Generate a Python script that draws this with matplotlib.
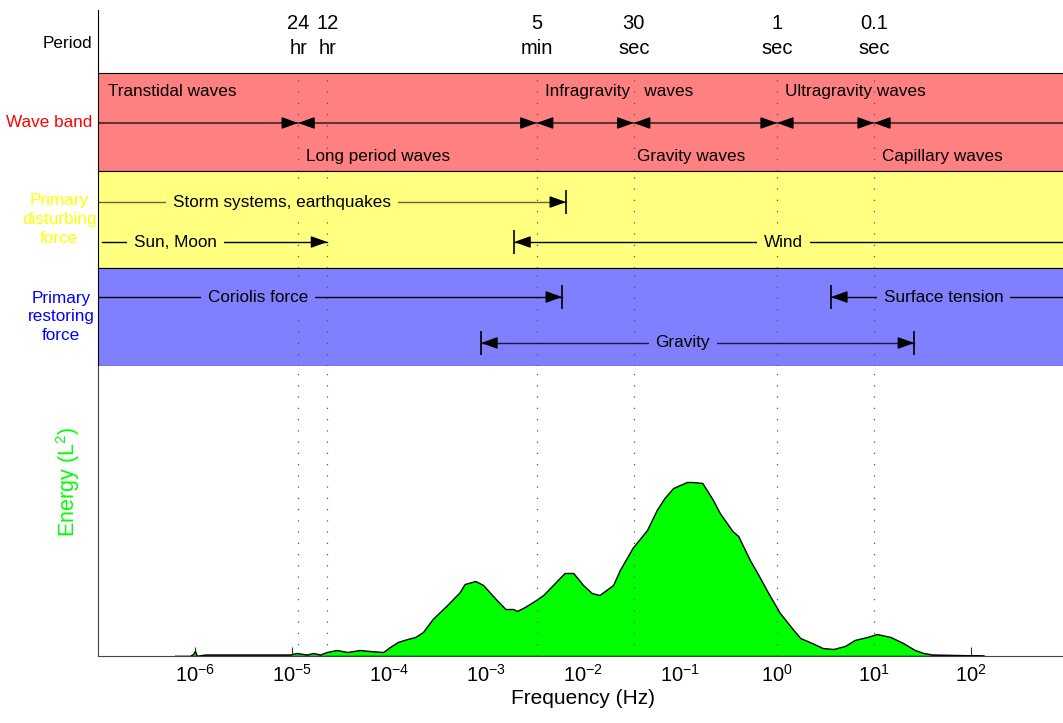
import numpy as np
import matplotlib.pyplot as plt

plt.rcParams['font.family'] = ['Liberation Sans', 'DejaVu Sans']
plt.rcParams['mathtext.default'] = 'regular'

# -----------------------------------------------------------------------
# Data
# -----------------------------------------------------------------------

# periods marked along the top (seconds)
PERIOD_S = [86400, 43200, 300, 30, 1, 0.1]
PERIOD_LABELS = ["24\nhr", "12\nhr", "5\nmin", "30\nsec", "1\nsec", "0.1\nsec"]

# wave band boundaries (seconds) and band names
BAND_EDGES_S = [86400, 300, 30, 1, 0.1]
BAND_NAMES = ["Transtidal waves", "Long period waves", "Infragravity   waves",
              "Gravity waves", "Ultragravity waves", "Capillary waves"]
BAND_TEXT_F = [10**-6.9, 10**-4.86, 10**-2.39, 10**-1.44, 10**0.08, 10**1.08]
BAND_UPPER = [True, False, True, False, True, False]

# forces: name, frequency range (Hz), label position (Hz)
DIST_NAMES = ["Storm systems, earthquakes", "Sun, Moon", "Wind"]
DIST_LO = [1e-7, 10**-6.96, 1.95e-3]
DIST_HI = [6.7e-3, 1 / 43200, 1e3]
DIST_TEXT_F = [10**-5.10, 10**-6.2, 10**0.07]

REST_NAMES = ["Coriolis force", "Surface tension", "Gravity"]
REST_LO = [1e-7, 3.6, 8.9e-4]
REST_HI = [6.1e-3, 1e3, 26.0]
REST_TEXT_F = [10**-5.35, 10**1.72, 10**-0.97]

# energy spectrum (log10 frequency, energy in arb. units)
LOG_F = [-6.21, -6.05, -6.02, -6.0, -5.98, -5.90, -5.02, -4.95, -4.85, -4.78,
         -4.71, -4.64, -4.54, -4.43, -4.30, -4.20, -4.06, -3.99, -3.91, -3.81,
         -3.73, -3.65, -3.55, -3.40, -3.27, -3.22, -3.11, -3.03, -2.89, -2.80,
         -2.72, -2.68, -2.60, -2.50, -2.41, -2.29, -2.19, -2.10, -2.00, -1.91,
         -1.83, -1.69, -1.62, -1.49, -1.34, -1.24, -1.16, -1.07, -0.93, -0.87,
         -0.77, -0.66, -0.59, -0.46, -0.40, -0.28, -0.18, -0.09, 0.03, 0.17,
         0.24, 0.36, 0.47, 0.58, 0.70, 0.80, 0.93, 1.03, 1.17, 1.30,
         1.42, 1.51, 1.60, 2.12, 2.14]
ENERGY = [0, 0, 2, 5, 0, 1.5, 1.5, 3, 1.5, 3,
          1.5, 4, 6, 4, 6, 5, 4, 9, 14, 17,
          19, 24, 37, 51, 64, 72, 75, 71, 56, 47,
          47, 45, 49, 55, 61, 73, 83, 83, 71, 63,
          61, 71, 86, 108, 126, 146, 158, 168, 174, 174,
          173, 156, 143, 125, 120, 96, 79, 63, 43, 26,
          18, 13, 8, 7, 10, 16, 19, 22, 19, 13,
          6, 3, 1.5, 0.5, 0]

RED = "#FF8080"
YELLOW = "#FFFF80"
BLUE = "#8080FF"

# -----------------------------------------------------------------------
# Layout
# -----------------------------------------------------------------------

W, H = 1063, 723
fig = plt.figure(figsize=(W / 100, H / 100), dpi=100)


def add_row(top, bottom, **kw):
    left = 98 / W
    width = (1068 - 98) / W
    return fig.add_axes([left, 1 - bottom / H, width, (bottom - top) / H], **kw)


ax_per = add_row(10, 73)
ax_wave = add_row(73, 171, sharex=ax_per)
ax_dist = add_row(171, 268, sharex=ax_per)
ax_rest = add_row(268, 366, sharex=ax_per)
ax_e = add_row(366, 656, sharex=ax_per)

ax_e.set_xscale("log")
ax_e.set_xlim(1e-7, 1e3)

period_f = [1 / p for p in PERIOD_S]

for ax, col in [(ax_per, "white"), (ax_wave, RED), (ax_dist, YELLOW), (ax_rest, BLUE)]:
    ax.set_facecolor(col)
    ax.set_ylim(0, 1)
    ax.tick_params(which="both", left=False, bottom=False, labelleft=False, labelbottom=False)
    ax.spines["right"].set_visible(False)

ax_per.spines["top"].set_visible(False)
ax_per.spines["bottom"].set_visible(False)

# dotted period lines
for ax in [ax_wave, ax_dist, ax_rest, ax_e]:
    for f in period_f:
        ax.axvline(f, color="#555555", linewidth=0.9, linestyle=(0, (1, 8)), zorder=2)

# period labels
for f, lab in zip(period_f, PERIOD_LABELS):
    ax_per.text(f, 0.585, lab, ha="center", va="center", fontsize=14.5, linespacing=1.4)
ax_per.text(-0.006, 0.47, "Period", transform=ax_per.transAxes, ha="right", va="center",
            fontsize=12.3)

# -----------------------------------------------------------------------
# Wave band row
# -----------------------------------------------------------------------


def head(ax, tip, y, direction, color="black"):
    # direction +1 -> points right, -1 -> points left
    start = tip * 10 ** (-0.15 * direction)
    ax.annotate("", xy=(tip, y), xytext=(start, y),
                arrowprops=dict(arrowstyle="-|>,head_length=1.0,head_width=0.36",
                                mutation_scale=10, color=color, lw=1,
                                shrinkA=0, shrinkB=0), zorder=4)


y_line = 0.49
ax_wave.plot([1e-7, 1e3], [y_line, y_line], color="black", alpha=0.6, linewidth=1.5, zorder=3)
for s in BAND_EDGES_S:
    head(ax_wave, 1 / s, y_line, +1)
    head(ax_wave, 1 / s, y_line, -1)
for name, f, up in zip(BAND_NAMES, BAND_TEXT_F, BAND_UPPER):
    ax_wave.text(f, 0.816 if up else 0.143, name, ha="left", va="center", fontsize=12.3, zorder=5)
ax_wave.text(-0.006, 0.49, "Wave band", transform=ax_wave.transAxes, ha="right",
             va="center", fontsize=12.3, color="#FF0000")

# -----------------------------------------------------------------------
# Force rows
# -----------------------------------------------------------------------


def force(ax, name, lo, hi, tf, y, face, left_head, right_head, bar_left, bar_right, alpha=1.0):
    ax.plot([lo, hi], [y, y], color="black", alpha=alpha, linewidth=1, zorder=3)
    if right_head:
        head(ax, hi, y, +1)
    if left_head:
        head(ax, lo, y, -1)
    if bar_right:
        ax.plot([hi], [y], marker="|", markersize=17, color="black", mew=1.2, zorder=4)
    if bar_left:
        ax.plot([lo], [y], marker="|", markersize=17, color="black", mew=1.2, zorder=4)
    ax.text(tf, y, name, ha="center", va="center", fontsize=12.3, zorder=5,
            bbox=dict(boxstyle="square,pad=0.4", facecolor=face, edgecolor="none"))


# disturbing forces
force(ax_dist, DIST_NAMES[0], DIST_LO[0], DIST_HI[0], DIST_TEXT_F[0], 0.68, YELLOW,
      False, True, False, True, alpha=0.6)
force(ax_dist, DIST_NAMES[1], DIST_LO[1], DIST_HI[1], DIST_TEXT_F[1], 0.268, YELLOW,
      False, True, False, False)
force(ax_dist, DIST_NAMES[2], DIST_LO[2], DIST_HI[2], DIST_TEXT_F[2], 0.268, YELLOW,
      True, False, True, False)
ax_dist.text(-0.04, 0.5, "Primary\ndisturbing\nforce", transform=ax_dist.transAxes,
             ha="center", va="center", fontsize=12.3, color="#FFFF00", linespacing=1.3)

# restoring forces
force(ax_rest, REST_NAMES[0], REST_LO[0], REST_HI[0], REST_TEXT_F[0], 0.704, BLUE,
      False, True, False, True)
force(ax_rest, REST_NAMES[1], REST_LO[1], REST_HI[1], REST_TEXT_F[1], 0.704, BLUE,
      True, False, True, False)
force(ax_rest, REST_NAMES[2], REST_LO[2], REST_HI[2], REST_TEXT_F[2], 0.235, BLUE,
      True, True, True, True, alpha=0.8)
ax_rest.text(-0.038, 0.5, "Primary\nrestoring\nforce", transform=ax_rest.transAxes,
             ha="center", va="center", fontsize=12.3, color="#0000FF", linespacing=1.3)

# -----------------------------------------------------------------------
# Energy spectrum
# -----------------------------------------------------------------------

freq = 10 ** np.array(LOG_F)
ax_e.fill_between(freq, ENERGY, 0, facecolor="#00FF00", edgecolor="black",
                  linewidth=1, zorder=1)
ax_e.set_ylim(0, 290)
ax_e.set_axisbelow(True)
ax_e.spines["top"].set_visible(False)
ax_e.spines["right"].set_visible(False)
for sp in ["left", "bottom"]:
    ax_e.spines[sp].set_color("#444444")
ax_e.set_xticks([10.0**k for k in range(-6, 3)])
ax_e.xaxis.set_minor_locator(plt.NullLocator())
ax_e.tick_params(axis="x", direction="in", length=6.5, color="#333333",
                 labelsize=14.5, pad=6)
ax_e.set_yticks([])
ax_e.set_xlabel("Frequency (Hz)", fontsize=15, labelpad=2)
ax_e.set_ylabel("Energy (L$^{2}$)", fontsize=15.5, color="#00FF00")
ax_e.yaxis.set_label_coords(-0.017, 0.6)

plt.savefig("out.png", dpi=100)
plt.close()
